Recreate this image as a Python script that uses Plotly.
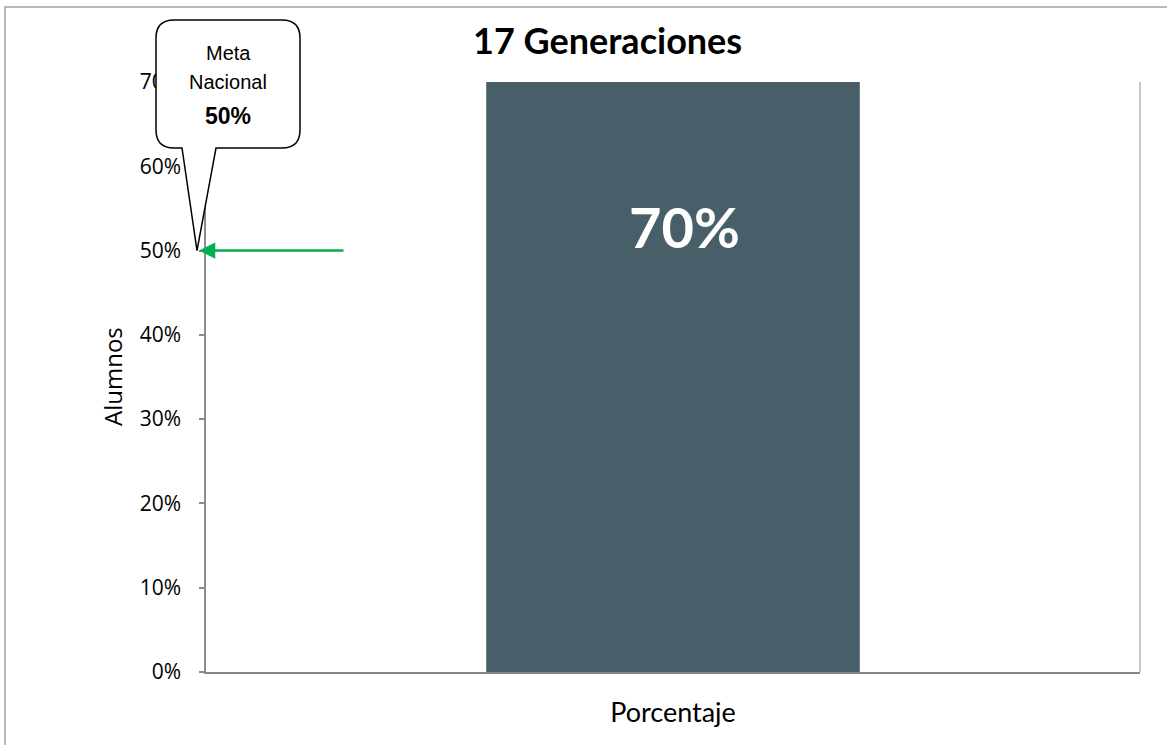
import plotly.graph_objects as go

# ---- data ----
categories = ["Porcentaje"]
values = [0.70]
meta_nacional = 0.50
y_ticks = [0.0, 0.1, 0.2, 0.3, 0.4, 0.5, 0.6, 0.7]
title_text = "17 Generaciones"
y_title = "Alumnos"
callout_lines = ["Meta", "Nacional"]

# ---- layout geometry (pixels) ----
W, H = 1167, 745
L, R, T, B = 206, 27, 82, 73
PW, PH = W - L - R, H - T - B
Y_MAX = 0.7


def px(x):
    return (x - L) / PW


def py(y):
    return (H - B - y) / PH


bar_color = "#485F69"
axis_grey = "#8C8C8C"

fig = go.Figure()
fig.add_trace(go.Bar(
    x=categories, y=values, width=0.4,
    marker=dict(color=bar_color, line=dict(width=0)),
    hoverinfo="skip", showlegend=False,
))

# data label inside the bar
fig.add_annotation(
    x=categories[0], y=values[0], xref="x", yref="y",
    text=f"<b>{values[0]:.0%}</b>", showarrow=False,
    font=dict(family="Lato", size=56, color="white"),
    xshift=11, yshift=-144, yanchor="middle",
)

# title
fig.add_annotation(
    x=px(607), y=py(40), xref="paper", yref="paper",
    text=f"<b>{title_text}</b>", showarrow=False,
    font=dict(family="Lato", size=36, color="black"),
    xanchor="center", yanchor="middle",
)

# y axis title
fig.add_annotation(
    x=px(112), y=0.5, xref="paper", yref="paper",
    text=y_title, showarrow=False, textangle=-90,
    font=dict(family="Open Sans", size=24, color="black"),
    xanchor="center", yanchor="middle",
)

# callout shape (speech bubble) pointing at the national goal
tip_y_pix = (H - B) - meta_nacional / Y_MAX * PH
x0, x1, y0, y1, r = 156, 300, 20, 148, 18
tail_l, tail_r, tip_x = 182, 216, 197
pts = [
    f"M {px(x0 + r)},{py(y0)}",
    f"L {px(x1 - r)},{py(y0)}",
    f"Q {px(x1)},{py(y0)} {px(x1)},{py(y0 + r)}",
    f"L {px(x1)},{py(y1 - r)}",
    f"Q {px(x1)},{py(y1)} {px(x1 - r)},{py(y1)}",
    f"L {px(tail_r)},{py(y1)}",
    f"L {px(tip_x)},{py(tip_y_pix)}",
    f"L {px(tail_l)},{py(y1)}",
    f"L {px(x0 + r)},{py(y1)}",
    f"Q {px(x0)},{py(y1)} {px(x0)},{py(y1 - r)}",
    f"L {px(x0)},{py(y0 + r)}",
    f"Q {px(x0)},{py(y0)} {px(x0 + r)},{py(y0)}",
    "Z",
]

shapes = [
    # outer chart border
    dict(type="rect", xref="paper", yref="paper",
         x0=px(5), x1=px(1175), y0=py(7), y1=py(760),
         line=dict(color="#A0A0A0", width=1.5), fillcolor="rgba(0,0,0,0)", layer="below"),
    # right plot border
    dict(type="line", xref="paper", yref="paper",
         x0=1, x1=1, y0=0, y1=1,
         line=dict(color="#C8C8C8", width=2), layer="below"),
    dict(type="path", xref="paper", yref="paper", path=" ".join(pts),
         line=dict(color="black", width=1.5), fillcolor="white", layer="above"),
]

# callout text
line_y = [53, 82]
for txt, yy in zip(callout_lines, line_y):
    fig.add_annotation(
        x=px(228), y=py(yy), xref="paper", yref="paper", text=txt, showarrow=False,
        font=dict(family="Liberation Sans Narrow, Liberation Sans", size=20, color="black"),
        xanchor="center", yanchor="middle",
    )
fig.add_annotation(
    x=px(228), y=py(116), xref="paper", yref="paper",
    text=f"<b>{meta_nacional:.0%}</b>", showarrow=False,
    font=dict(family="Liberation Sans Narrow, Liberation Sans", size=23, color="black"),
    xanchor="center", yanchor="middle",
)

# green arrow pointing at the goal on the y axis
fig.add_annotation(
    x=px(199), y=meta_nacional, xref="paper", yref="y",
    ax=146, ay=0, axref="pixel", ayref="pixel",
    text="", showarrow=True, arrowhead=2, arrowsize=1.3,
    arrowwidth=2.5, arrowcolor="#00B050",
)

fig.update_layout(
    width=W, height=H,
    margin=dict(l=L, r=R, t=T, b=B, pad=0),
    paper_bgcolor="white", plot_bgcolor="white",
    shapes=shapes,
    showlegend=False,
    xaxis=dict(
        range=[-0.5, 0.5], showgrid=False, zeroline=False,
        showline=True, linecolor="#858585", linewidth=2,
        ticks="", tickfont=dict(family="Lato", size=27, color="black"),
        ticklabelstandoff=16,
    ),
    yaxis=dict(
        range=[0, Y_MAX], tickvals=y_ticks, tickformat=".0%",
        showgrid=False, zeroline=False,
        showline=True, linecolor=axis_grey, linewidth=1.5,
        ticks="outside", ticklen=5, tickcolor=axis_grey, tickwidth=1.5,
        tickfont=dict(family="Open Sans", size=21, color="black"),
        ticklabelstandoff=14,
    ),
)

fig.write_html(
    "out.html",
    config={"displayModeBar": False},
    post_script="document.body.style.margin='0';document.body.style.overflow='hidden';",
)
